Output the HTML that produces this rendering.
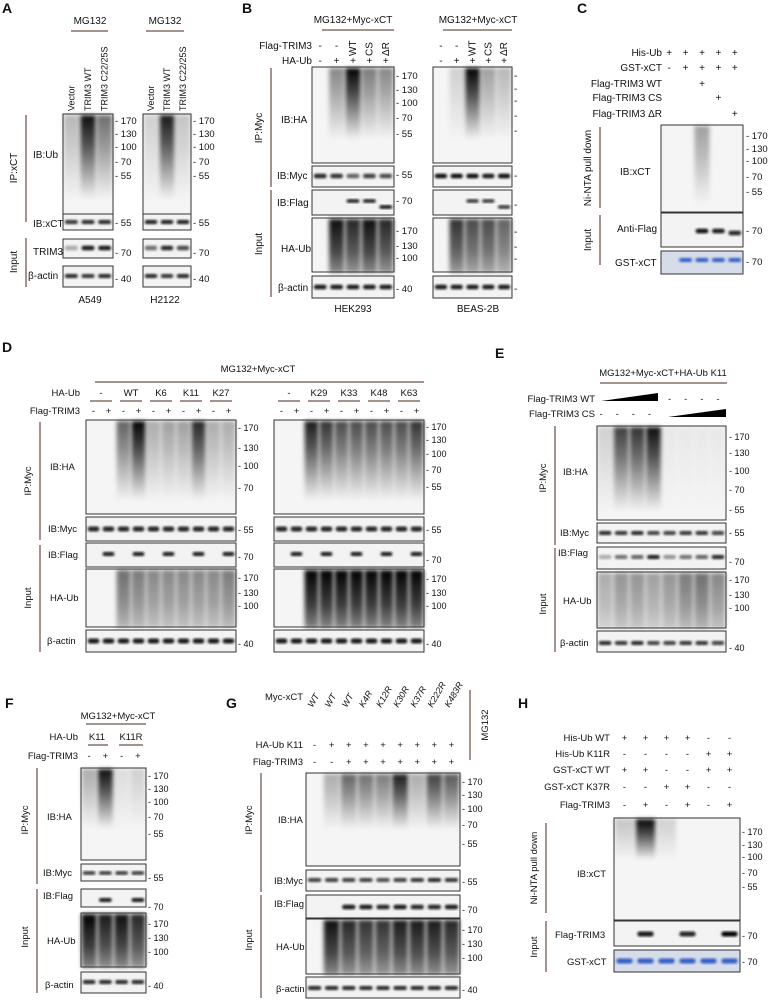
<!DOCTYPE html>
<html><head><meta charset="utf-8"><style>
html,body{margin:0;padding:0;background:#fff;}
svg{display:block;font-family:"Liberation Sans",sans-serif;}
</style></head><body>
<svg id="fig" width="772" height="1000" viewBox="0 0 772 1000" xmlns="http://www.w3.org/2000/svg">
<defs>
<linearGradient id="sm" x1="0" y1="0" x2="0" y2="1"><stop offset="0" stop-color="#000" stop-opacity="1"/><stop offset="0.35" stop-color="#000" stop-opacity="0.7"/><stop offset="1" stop-color="#000" stop-opacity="0"/></linearGradient>
<linearGradient id="smFull" x1="0" y1="0" x2="0" y2="1"><stop offset="0" stop-color="#000" stop-opacity="1"/><stop offset="0.6" stop-color="#000" stop-opacity="0.75"/><stop offset="1" stop-color="#000" stop-opacity="0.45"/></linearGradient>
<filter id="bl" x="-30%" y="-30%" width="160%" height="160%"><feGaussianBlur stdDeviation="1.2"/></filter>
<filter id="bl2" x="-30%" y="-30%" width="160%" height="160%"><feGaussianBlur stdDeviation="2.2"/></filter>
</defs>
</svg>
<script>
// ---- data arrays (lane intensities, 0..1) ----
const A549_ub=[0.25,0.95,0.55], H2122_ub=[0.15,0.9,0.2];
const A549_xct=[0.8,0.85,0.85], H2122_xct=[0.9,0.9,0.9];
const A549_trim3=[0.3,0.9,0.9], H2122_trim3=[0.55,0.85,0.7];
const A_actin=[0.85,0.8,0.85];
const HEK_ha=[0,0.45,1,0.5,0.45], BEAS_ha=[0,0.15,1,0.35,0.25];
const HEK_myc=[0.85,0.8,0.6,0.75,0.7], BEAS_myc=[0.95,0.95,0.95,0.9,0.95];
const HEK_flag=[0,0,0.9,0.9,0.95], BEAS_flag=[0,0,0.8,0.8,0.8];
const HEK_haub=[0,0.95,0.85,0.95,0.85], BEAS_haub=[0,0.8,0.7,0.7,0.6];
const B_actin=[0.9,0.9,0.9,0.9,0.9];
const C_xct=[0,0,0.35,0,0], C_flag=[0,0,0.95,0.9,0.85], C_gst=[0,0.9,0.9,0.9,0.9];
const D1_ha=[0,0,0.6,1,0.3,0.35,0.35,0.85,0.3,0.3], D2_ha=[0,0,0.9,0.8,0.7,0.7,0.7,0.7,0.7,0.8];
const D_myc=[0.85,0.85,0.85,0.85,0.85,0.85,0.85,0.85,0.85,0.85];
const D_flag=[0,0.9,0,0.9,0,0.9,0,0.9,0,0.9];
const D1_haub=[0,0,0.55,0.5,0.45,0.45,0.45,0.45,0.45,0.5], D2_haub=[0,0,1,1,1,1,1,1,1,1];
const E_ha=[0.15,0.75,0.8,0.95,0.05,0.05,0.05,0.05], E_myc=[0.85,0.8,0.85,0.75,0.75,0.8,0.8,0.75];
const E_flag=[0.3,0.55,0.6,0.9,0.4,0.55,0.6,0.85], E_haub=[0.3,0.4,0.4,0.35,0.4,0.5,0.55,0.45];
const F_ha=[0.3,0.95,0.1,0.15], F_myc=[0.8,0.8,0.8,0.8], F_flag=[0,0.9,0,0.9], F_haub=[1,0.9,0.95,0.85];
const G_ha=[0,0.3,0.6,0.55,0.5,0.9,0.3,0.75,0.65], G_myc=[0.75,0.75,0.75,0.75,0.7,0.75,0.8,0.85,0.8];
const G_flag=[0,0,0.9,0.9,0.85,0.9,0.85,0.85,0.9], G_haub=[0,0.95,0.85,0.8,0.8,0.9,0.9,0.9,0.85];
const H_xct=[0.2,1,0.15,0,0,0], H_flag=[0,0.9,0,0.85,0,1], H_gst=[0.9,0.9,0.9,0.9,0.9,0.9];
const G_cols=["WT","WT","WT","K4R","K12R","K30R","K37R","K222R","K483R"];

const svg=document.getElementById('fig');
const NS='http://www.w3.org/2000/svg';
let FS=10;
function mk(tag,attrs,parent){const e=document.createElementNS(NS,tag);for(const k in attrs)e.setAttribute(k,attrs[k]);(parent||svg).appendChild(e);return e;}
function T(x,y,s,o){o=o||{};const e=mk('text',{x:x,y:y,'font-size':o.size||FS,'text-anchor':o.anchor||'start',fill:'#111'});
 if(o.bold)e.setAttribute('font-weight','bold');
 if(o.rot)e.setAttribute('transform','rotate('+o.rot+' '+x+' '+y+')');
 if(o.italic)e.setAttribute('font-style','italic');
 e.textContent=s;
 
 
 return e;}
function L(x1,y1,x2,y2,w){const e=mk('line',{x1:x1,y1:y1,x2:x2,y2:y2,stroke:'#4a2a22','stroke-width':w||1});
 
 return e;}
function lx(x,w,n,i){return x+w*(i+0.5)/n;}
function blot(name,x,y,w,h,bg){const g=mk('g',{});
 
 
 mk('rect',{x:x,y:y,width:w,height:h,fill:bg||'#f5f5f5'},g);
 return g;}
function frame(g,x,y,w,h){mk('rect',{x:x,y:y,width:w,height:h,fill:'none',stroke:'#333','stroke-width':1},g);}
function bands(name,x,y,w,h,vals,cy,bh,col,off){const g=blot(name,x,y,w,h,col==='blue'?'#d6dcea':'#f3f3f3');const n=vals.length;
 vals.forEach((v,i)=>{if(v<=0)return;const cx=lx(x,w,n,i);const bw=w/n*0.78;const yy=y+cy+(off?off[i]:0);
  const r=mk('rect',{x:cx-bw/2,y:yy-bh/2,width:bw,height:bh,rx:bh/2,fill:col==='blue'?'#1e4fc0':'#000','fill-opacity':v,filter:'url(#bl)'},g);
  
  });
 frame(g,x,y,w,h);return g;}
function smears(name,x,y,w,h,vals,len,full){const g=blot(name,x,y,w,h);const n=vals.length;
 vals.forEach((v,i)=>{if(v<=0)return;const cx=lx(x,w,n,i);const bw=w/n*0.92;
  const r=mk('rect',{x:cx-bw/2,y:y+1,width:bw,height:h*len,fill:full?'url(#smFull)':'url(#sm)','fill-opacity':v,filter:'url(#bl2)'},g);
  
  });
 frame(g,x,y,w,h);return g;}
function ticks(x,arr){arr.forEach(a=>T(x,a[0]+3,'- '+a[1],{size:FS-0.5,name:'mw-marker'}));}
function vlabel(x,y,s,y1,y2){T(x,y,s,{rot:-90,anchor:'middle',name:'group-label'});L(x+9,y1,x+9,y2);}

// ===== Panel A =====
T(2,13,'A',{bold:true,size:14,name:'panel-label-a'});
[[71,108,90,A549_ub,A549_xct,A549_trim3,'a549'],[146,184,165,H2122_ub,H2122_xct,H2122_trim3,'h2122']].forEach((p,k)=>{
 const bx=k?143:63,bw=k?48:50;
 T(p[2],24,'MG132',{anchor:'middle',name:'treatment-header'});L(p[0],31,p[1],31);
 ['Vector','TRIM3 WT','TRIM3 C22/25S'].forEach((s,i)=>T(lx(bx,bw,3,i)+3,111,s,{rot:-90,size:9,name:'lane-label'}));
 smears('ib-ub-'+p[6],bx,114,bw,106,p[3],0.8);
 bands('ib-xct-'+p[6],bx,214,bw,16,p[4],8,4);
 bands('trim3-'+p[6],bx,239,bw,19,p[5],9,4.5);
 bands('actin-'+p[6],bx,266,bw,21,A_actin,10,4);
 const tx=bx+bw+2;ticks(tx,[[121,170],[134,130],[147,100],[162,70],[176,55],[223,55],[253,70],[279,40]]);
 T(p[2],303,k?'H2122':'A549',{anchor:'middle',name:'cell-line-label'});
});
T(33,158,'IB:Ub');T(33,227,'IB:xCT');T(33,255,'TRIM3');T(28,279,'β-actin');
vlabel(17,168,'IP:xCT',115,222);vlabel(17,262,'Input',238,287);

// ===== Panel B =====
T(242,13,'B',{bold:true,size:14,name:'panel-label-b'});
[[312,82,353,HEK_ha,HEK_myc,HEK_flag,HEK_haub,'HEK293'],[433,79,478,BEAS_ha,BEAS_myc,BEAS_flag,BEAS_haub,'BEAS-2B']].forEach((p,k)=>{
 const bx=p[0],bw=p[1];
 T(p[2],23,'MG132+Myc-xCT',{anchor:'middle',name:'treatment-header'});L(bx+10,30,bx+bw,30);
 ['-','-','WT','CS','ΔR'].forEach((s,i)=>{const cx=lx(bx,bw,5,i);if(i<2)T(cx,49,s,{anchor:'middle'});else T(cx+3,56,s,{rot:-90,name:'lane-label'});});
 ['-','+','+','+','+'].forEach((s,i)=>T(lx(bx,bw,5,i),64,s,{anchor:'middle'}));
 smears('ib-ha-'+p[7],bx,67,bw,96,p[3],0.75);
 bands('ib-myc-'+p[7],bx,166,bw,21,p[4],10,4.5);
 bands('ib-flag-'+p[7],bx,190,bw,25,p[5],11,3.5,null,[0,0,0,0,6]);
 smears('ha-ub-'+p[7],bx,218,bw,54,p[6],1,true);
 bands('actin-'+p[7],bx,276,bw,22,B_actin,11,4.5);
 const tx=bx+bw+2;
 if(!k){ticks(tx,[[76,170],[90,130],[103,100],[118,70],[134,55],[175,55],[201,70],[231,170],[246,130],[258,100],[289,40]]);}
 else{[76,89,101,116,131,176,205,232,247,259,289].forEach(y=>T(tx,y+3,'-',{name:'mw-marker'}));}
 T(p[2],312,p[7],{anchor:'middle',name:'cell-line-label'});
});
T(312,49,'Flag-TRIM3',{anchor:'end'});T(312,64,'HA-Ub',{anchor:'end'});
T(281,123,'IB:HA');T(277,179,'IB:Myc');T(277,206,'IB:Flag');T(281,252,'HA-Ub');T(278,291,'β-actin');
vlabel(262,128,'IP:Myc',68,187);vlabel(262,244,'Input',190,297);

// ===== Panel C =====
T(577,13,'C',{bold:true,size:14,name:'panel-label-c'});
const cRows=[['His-Ub',['+','+','+','+','+'],56],['GST-xCT',['-','+','+','+','+'],71],['Flag-TRIM3 WT',['','','+','',''],87],['Flag-TRIM3 CS',['','','','+',''],101],['Flag-TRIM3 ΔR',['','','','','+'],117]];
cRows.forEach(r=>{T(662,r[2],r[0],{anchor:'end'});r[1].forEach((s,i)=>T(lx(661,82,5,i),r[2],s,{anchor:'middle'}));});
smears('ib-xct-c',661,125,82,87,C_xct,0.9);
bands('anti-flag-c',661,213,82,34,C_flag,18,4.5,null,[0,0,0,0,2]);
bands('gst-xct-c',661,251,82,23,C_gst,9,4,'blue');
ticks(746,[[136,170],[149,130],[161,100],[177,70],[192,55],[231,70],[262,70]]);
T(620,175,'IB:xCT');T(617,232,'Anti-Flag');T(615,266,'GST-xCT');
vlabel(591,168,'Ni-NTA pull down',127,208);vlabel(591,240,'Input',215,265);

FS=9.5;
// ===== Panel D =====
T(2,352,'D',{bold:true,size:14,name:'panel-label-d'});
T(258,372,'MG132+Myc-xCT',{anchor:'middle',name:'treatment-header'});L(95,382,424,382);
[[86,150,['-','WT','K6','K11','K27'],D1_ha,D1_haub,'d1'],[274,150,['-','K29','K33','K48','K63'],D2_ha,D2_haub,'d2']].forEach((p,k)=>{
 const bx=p[0],bw=p[1];
 p[2].forEach((s,j)=>{const c=(lx(bx,bw,10,2*j)+lx(bx,bw,10,2*j+1))/2;T(c,396,s,{anchor:'middle'});L(c-11,401,c+11,401);});
 for(let i=0;i<10;i++)T(lx(bx,bw,10,i),414,i%2?'+':'-',{anchor:'middle'});
 smears('ib-ha-'+p[5],bx,420,bw,94,p[3],0.85);
 bands('ib-myc-'+p[5],bx,517,bw,24,D_myc,12,5);
 bands('ib-flag-'+p[5],bx,543,bw,24,D_flag,11,4);
 smears('ha-ub-'+p[5],bx,569,bw,58,p[4],1,true);
 bands('actin-'+p[5],bx,630,bw,22,[.9,.9,.9,.9,.9,.9,.9,.9,.9,.9],11,5);
 const tx=bx+bw+2;
 if(!k)ticks(tx,[[428,170],[448,130],[466,100],[488,70],[530,55],[557,70],[578,170],[593,130],[606,100],[644,40]]);
 else ticks(tx,[[427,170],[440,130],[454,100],[470,70],[487,55],[530,55],[560,70],[579,170],[593,130],[606,100],[644,40]]);
});
T(80,396,'HA-Ub',{anchor:'end'});T(80,414,'Flag-TRIM3',{anchor:'end'});
T(50,470,'IB:HA');T(48,532,'IB:Myc');T(48,558,'IB:Flag');T(50,601,'HA-Ub');T(47,644,'β-actin');
vlabel(31,481,'IP:Myc',422,540);vlabel(31,598,'Input',545,652);

// ===== Panel E =====
T(495,358,'E',{bold:true,size:14,name:'panel-label-e'});
T(663,376,'MG132+Myc-xCT+HA-Ub K11',{anchor:'middle',name:'treatment-header'});L(600,383,727,383);
T(595,402,'Flag-TRIM3 WT',{anchor:'end'});T(595,417,'Flag-TRIM3 CS',{anchor:'end'});
const w1=mk('polygon',{points:'601,401 658,401 658,393','fill':'#000'});


const w2=mk('polygon',{points:'668,417 726,417 726,409','fill':'#000'});


for(let i=0;i<4;i++){T(lx(597,129,8,i+4),402,'-',{anchor:'middle'});T(lx(597,129,8,i)-4,417,'-',{anchor:'middle'});}
smears('ib-ha-e',597,426,129,94,E_ha,0.9);
bands('ib-myc-e',597,523,129,20,E_myc,10,4);
bands('ib-flag-e',597,547,129,22,E_flag,10,4);
smears('ha-ub-e',597,572,129,56,E_haub,1,true);
bands('actin-e',597,631,129,21,[.85,.8,.85,.75,.75,.8,.8,.75],12,4);
ticks(729,[[437,170],[453,130],[471,100],[490,70],[510,55],[533,55],[562,70],[580,170],[595,130],[608,100],[648,40]]);
T(563,475,'IB:HA');T(560,536,'IB:Myc');T(558,556,'IB:Flag');T(563,604,'HA-Ub');T(560,646,'β-actin');
vlabel(546,478,'IP:Myc',426,545);vlabel(546,604,'Input',548,652);

// ===== Panel F =====
T(5,708,'F',{bold:true,size:14,name:'panel-label-f'});
T(118,719,'MG132+Myc-xCT',{anchor:'middle',name:'treatment-header'});L(86,724,146,724);
T(97,740,'K11',{anchor:'middle'});L(88,745,108,745);T(131,740,'K11R',{anchor:'middle'});L(119,745,143,745);
T(78,740,'HA-Ub',{anchor:'end'});T(78,759,'Flag-TRIM3',{anchor:'end'});
['-','+','-','+'].forEach((s,i)=>T(lx(81,65,4,i),759,s,{anchor:'middle'}));
smears('ib-ha-f',81,768,65,92,F_ha,0.65);
bands('ib-myc-f',81,864,65,17,F_myc,9,3.5);
bands('ib-flag-f',81,889,65,18,F_flag,11,4);
smears('ha-ub-f',81,913,65,54,F_haub,1,true);
bands('actin-f',81,972,65,21,[.85,.85,.85,.85],10,4);
ticks(148,[[776,170],[789,130],[802,100],[817,70],[834,55],[878,55],[907,70],[924,170],[938,130],[952,100],[986,40]]);
T(47,820,'IB:HA');T(43,876,'IB:Myc');T(43,899,'IB:Flag');T(47,944,'HA-Ub');T(45,988,'β-actin');
vlabel(28,820,'IP:Myc',768,884);vlabel(28,937,'Input',889,993);

// ===== Panel G =====
T(226,708,'G',{bold:true,size:14,name:'panel-label-g'});
G_cols.forEach((s,i)=>T(lx(306,154,9,i)-2,708,s,{rot:-60,italic:true,size:9,name:'lane-label'}));
T(303,700,'Myc-xCT',{anchor:'end'});T(303,748,'HA-Ub K11',{anchor:'end'});T(303,765,'Flag-TRIM3',{anchor:'end'});
['-','+','+','+','+','+','+','+','+'].forEach((s,i)=>T(lx(306,154,9,i),748,s,{anchor:'middle'}));
['-','-','+','+','+','+','+','+','+'].forEach((s,i)=>T(lx(306,154,9,i),765,s,{anchor:'middle'}));
L(470,690,470,760);T(488,725,'MG132',{rot:-90,anchor:'middle'});
smears('ib-ha-g',306,773,154,93,G_ha,0.6);
bands('ib-myc-g',306,870,154,21,G_myc,10,4);
bands('ib-flag-g',306,895,154,23,G_flag,12,4.5);
smears('ha-ub-g',306,919,154,55,G_haub,1,true);
bands('actin-g',306,977,154,21,[.85,.85,.85,.85,.85,.85,.85,.85,.85],11,4);
ticks(462,[[782,170],[795,130],[809,100],[825,70],[844,55],[882,55],[910,70],[930,170],[944,130],[958,100],[990,40]]);
T(278,823,'IB:HA');T(274,884,'IB:Myc');T(274,907,'IB:Flag');T(276,950,'HA-Ub');T(276,992,'β-actin');
vlabel(252,820,'IP:Myc',773,892);vlabel(252,940,'Input',895,998);

// ===== Panel H =====
T(518,708,'H',{bold:true,size:14,name:'panel-label-h'});
const hRows=[['His-Ub WT',['+','+','+','+','-','-'],741],['His-Ub K11R',['-','-','-','-','+','+'],757],['GST-xCT WT',['+','+','-','-','+','+'],773],['GST-xCT K37R',['-','-','+','+','-','-'],790],['Flag-TRIM3',['-','+','-','+','-','+'],808]];
hRows.forEach(r=>{T(610,r[2],r[0],{anchor:'end'});r[1].forEach((s,i)=>T(lx(614,126,6,i),r[2],s,{anchor:'middle'}));});
smears('ib-xct-h',614,818,126,102,H_xct,0.4);
bands('flag-trim3-h',614,921,126,25,H_flag,13,5);
bands('gst-xct-h',614,950,126,22,H_gst,11,5,'blue');
ticks(742,[[832,170],[845,130],[857,100],[873,70],[887,55],[936,70],[962,70]]);
T(577,877,'IB:xCT');T(555,938,'Flag-TRIM3');T(567,965,'GST-xCT');
vlabel(537,868,'Ni-NTA pull down',823,913);vlabel(537,947,'Input',921,972);
</script>
</body></html>
